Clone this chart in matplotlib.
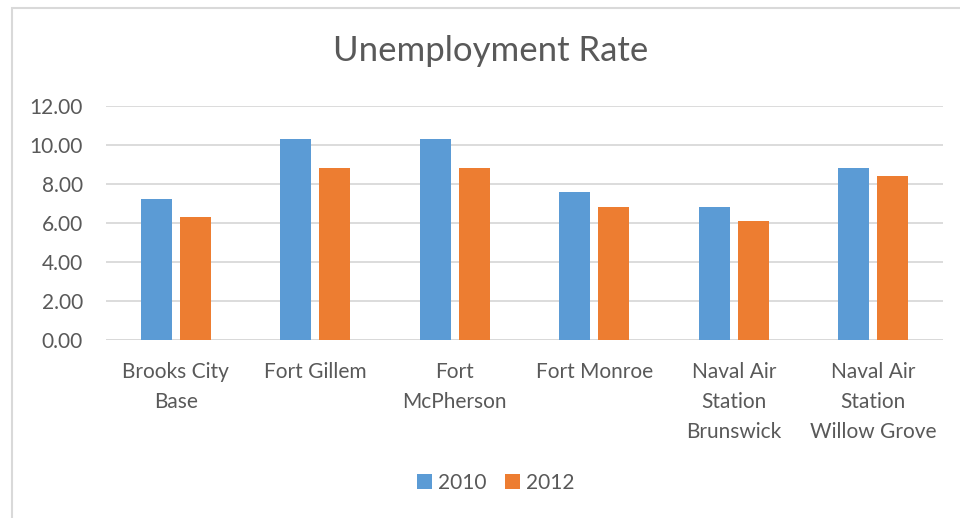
import matplotlib
matplotlib.use("Agg")
import matplotlib.pyplot as plt
import numpy as np
from matplotlib.patches import Rectangle

plt.rcParams['font.family'] = ['Lato', 'DejaVu Sans']

# Unemployment rate per base, two survey years
bases = ['Brooks City\nBase', 'Fort Gillem', 'Fort\nMcPherson', 'Fort Monroe',
         'Naval Air\nStation\nBrunswick', 'Naval Air\nStation\nWillow Grove']
rate_2010 = [7.2, 10.3, 10.3, 7.6, 6.8, 8.8]
rate_2012 = [6.3, 8.8, 8.8, 6.8, 6.1, 8.4]
years = ['2010', '2012']

blue = '#5B9BD5'
orange = '#ED7D31'
text_col = '#595959'
grid_col = '#D9D9D9'

fig = plt.figure(figsize=(9.6, 5.18), dpi=100)
ax = fig.add_axes([106 / 960, 178.3 / 518, 837 / 960, 233.7 / 518])

x = np.arange(len(bases))
w = 0.222
off = 0.141
ax.bar(x - off, rate_2010, w, color=blue, label=years[0], zorder=3)
ax.bar(x + off, rate_2012, w, color=orange, label=years[1], zorder=3)

ax.set_xlim(-0.5, len(bases) - 0.5)
ax.set_ylim(0, 12)
ax.set_yticks(np.arange(0, 12.01, 2))
ax.set_yticklabels([f'{v:.2f}' for v in np.arange(0, 12.01, 2)])
ax.yaxis.grid(True, color=grid_col, linewidth=1.3, zorder=0)
ax.set_xticks(x)
ax.set_xticklabels(bases, linespacing=1.64, va='top')

for s in ax.spines.values():
    s.set_visible(False)
ax.axhline(0, color=grid_col, linewidth=1.3, zorder=2)
ax.tick_params(axis='both', length=0, colors=text_col, labelsize=15)
ax.tick_params(axis='y', pad=16.5)
ax.tick_params(axis='x', pad=16)

fig.text(491 / 960, 1 - 61 / 518, 'Unemployment Rate', ha='center', va='baseline',
         fontsize=25, color=text_col)

leg = fig.legend(loc='center', bbox_to_anchor=(496 / 960, 1 - 483 / 518), ncol=2,
                 frameon=False, fontsize=15, handlelength=0.7, handleheight=0.7,
                 handletextpad=0.3, columnspacing=0.9)
for t in leg.get_texts():
    t.set_color(text_col)

# chart area border
fig.patches.append(Rectangle((12 / 960, -0.1), 1.2, 1 - 8 / 518 + 0.1,
                             transform=fig.transFigure, fill=False,
                             edgecolor='#D9D9D9', linewidth=1.5))

fig.savefig('out.png', dpi=100)
